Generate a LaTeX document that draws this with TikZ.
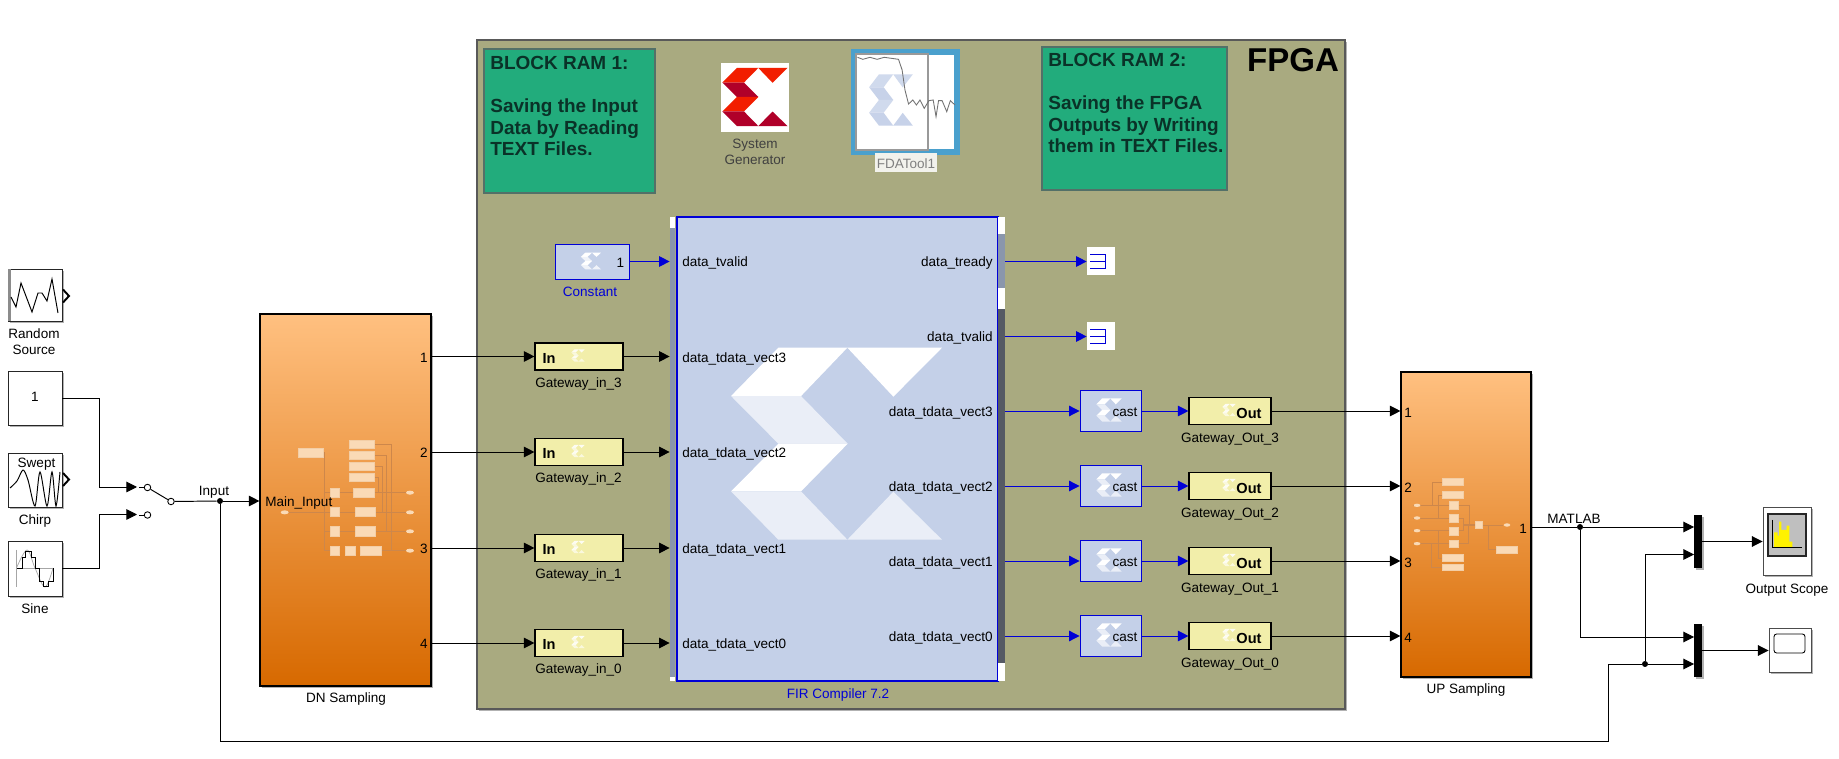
\documentclass[tikz,border=0pt]{standalone}
\usepackage{fontspec}
\setmainfont{Liberation Sans}
\usetikzlibrary{arrows.meta,shadows,positioning,calc}
\definecolor{fpgac}{RGB}{169,170,128}
\definecolor{ramc}{RGB}{34,172,124}
\definecolor{ramt}{RGB}{10,50,40}
\definecolor{firc}{RGB}{196,208,232}
\definecolor{xblue}{RGB}{0,0,215}
\definecolor{gwy}{RGB}{242,238,170}
\definecolor{orT}{RGB}{255,192,128}
\definecolor{orM}{RGB}{240,168,98}
\definecolor{orB}{RGB}{215,105,0}
\definecolor{tile}{RGB}{250,218,182}
\definecolor{tline}{RGB}{205,135,75}
\definecolor{barg}{RGB}{138,150,172}
\definecolor{bard}{RGB}{85,90,100}
\definecolor{fdab}{RGB}{74,160,205}

\begin{document}
\begin{tikzpicture}[x=0.02cm,y=-0.02cm,
  sh/.style={drop shadow={shadow xshift=1.2pt,shadow yshift=-1.2pt,opacity=.3,fill=black}},
  src/.style={rectangle,draw=black!85,fill=white,line width=.55pt,inner sep=0pt,sh,
              minimum width=54*.5692pt,minimum height=54*.5692pt},
  subsys/.style={rectangle,draw=black,line width=.65pt,inner sep=0pt,sh,
                 top color=orT,middle color=orM,bottom color=orB},
  ram/.style={rectangle,draw=ramt!70,fill=ramc,line width=.6pt,inner sep=0pt},
  gw/.style={rectangle,draw=black,fill=gwy,line width=.65pt,inner sep=0pt,
             minimum height=27*.5692pt},
  castb/.style={rectangle,draw=xblue,fill=firc,line width=.5pt,inner sep=0pt,
                minimum width=61*.5692pt,minimum height=41*.5692pt},
  term/.style={rectangle,fill=white,inner sep=0pt,
               minimum width=28*.5692pt,minimum height=28*.5692pt},
  mux/.style={rectangle,fill=black,inner sep=0pt,sh,minimum width=8*.5692pt},
  dot/.style={circle,fill=black,inner sep=0pt,minimum size=6*.5692pt},
  sw/.style={circle,draw=black,fill=white,line width=.5pt,inner sep=0pt,minimum size=6.5*.5692pt},
  lbl/.style={font=\fontsize{7.7}{9.1}\selectfont,inner sep=0pt,text height=5.5pt,text depth=0pt,yshift=-.5pt},
  capt/.style={font=\fontsize{7.7}{9.1}\selectfont,inner sep=0pt,align=center},
  ramtxt/.style={font=\fontsize{10.8}{12.35}\selectfont\bfseries,text=ramt,inner sep=0pt,
                 align=left,anchor=north west},
  wire/.style={black,line width=.55pt},
  arr/.style={-{Triangle[length=6pt,width=6pt]},black,line width=.55pt},
  barr/.style={-{Triangle[length=6pt,width=6pt]},xblue,line width=.55pt},
  icon/.style={black,line width=.55pt,line join=miter},
  tl/.style={fill=tile,draw=tile!85!tline,line width=.3pt},
  tw/.style={draw=tline,line width=.3pt},
  pics/xlogo/.style n args={2}{code={
    \fill[#1] (-175,-288) -- (32,-288) -- (-107,-143) -- (-317,-143) -- cycle;
    \fill[#2] (-317,-143) -- (-107,-143) -- (33,0) -- (-175,0) -- cycle;
    \fill[#1] (-175,0) -- (33,0) -- (-107,143) -- (-317,143) -- cycle;
    \fill[#2] (-317,143) -- (-107,143) -- (32,288) -- (-175,288) -- cycle;
    \fill[#2] (32,288) -- (170,144) -- (316,288) -- cycle;
    \fill[#1] (32,-288) -- (316,-288) -- (170,-141) -- cycle;
  }}]

  \useasboundingbox (0,0) rectangle (1839,759);

  % FPGA frame and the notes in it
  \node[rectangle,draw=black!65,fill=fpgac,line width=.7pt,sh,inner sep=0pt,
        minimum width=868*.5692pt,minimum height=669*.5692pt] (fpga) at (911,374.5) {};
  \node[font=\fontsize{18.8}{20}\selectfont\bfseries,inner sep=0pt] (fpgat) at (1293,60) {FPGA};
  \node[ram,minimum width=171*.5692pt,minimum height=144*.5692pt] (ram1) at (569.5,121) {};
  \node[ramtxt] (ram1t) at (490,55.5) {BLOCK RAM 1:\\[12.35pt]Saving the Input\\Data by Reading\\TEXT Files.};
  \node[ram,minimum width=185*.5692pt,minimum height=143*.5692pt] (ram2) at (1134.5,118.5) {};
  \node[ramtxt] (ram2t) at (1048,52.5) {BLOCK RAM 2:\\[12.35pt]Saving the FPGA\\Outputs by Writing\\them in TEXT Files.};

  % System Generator and filter tool
  \node[rectangle,fill=white,inner sep=0pt,minimum width=68*.5692pt,minimum height=69*.5692pt] (sysgen) at (755,97.5) {};
  \pic[xscale=.103,yscale=.101] (lg0) at (755,97) {xlogo={red!75!orange!95!black}{purple!75!red!85!black}};
  \node[capt,text=black!75] (sysgent) at (755,152) {System\\Generator};
  \node[rectangle,draw=fdab,fill=white,line width=3.4pt,inner sep=0pt,
        minimum width=103*.5692pt,minimum height=100*.5692pt] (fda) at (905.5,102) {};
  \pic[xscale=.069,yscale=.089] (lg1) at (891,100) {xlogo={firc!80}{firc!95}};
  \draw[black!40,line width=.6pt] (856,54) rectangle (928,150);
  \begin{scope}[shift={(470,30)},xscale=1/2.8,yscale=1/3]
    \draw[black!55,line width=.5pt] (1085,82) -- (1100,88) -- (1120,82) -- (1140,88) -- (1160,82) -- (1180,85) -- (1200,88)
      -- (1210,120) -- (1218,180) -- (1228,222) -- (1240,210) -- (1250,225) -- (1260,210) -- (1272,235) -- (1285,212)
      -- (1297,210) -- (1305,260) -- (1312,212) -- (1322,212) -- (1335,245) -- (1345,212) -- (1358,225);
  \end{scope}
  \node[rectangle,fill=white!85!fpgac,minimum width=62*.5692pt,minimum height=19*.5692pt,inner sep=0pt] (fdabg) at (906,162.5) {};
  \node[lbl,text=black!50] (fdat) at (906,162.5) {FDATool1};

  % FIR block
  \node[rectangle,draw=xblue,fill=firc,line width=.7pt,inner sep=0pt,
        minimum width=321*.5692pt,minimum height=464*.5692pt] (fir) at (837.5,449) {};
  \pic[scale=1/3] (lg2) at (836.7,443.7) {xlogo={white}{white!65!firc}};
  \fill[white] (670,217) rectangle (675,681);
  \node[rectangle,fill=barg,inner sep=0pt,minimum width=5*.5692pt,minimum height=449*.5692pt] (firbar) at (672.5,452.5) {};
  \fill[white] (998,217) rectangle (1005,681);
  \fill[barg] (998,234) rectangle (1005,288);
  \node[rectangle,fill=bard,inner sep=0pt,minimum width=7*.5692pt,minimum height=354*.5692pt] (firout) at (1001.5,486) {};
  \node[capt,text=xblue] (firt) at (838,695) {FIR Compiler 7.2};

  \node[lbl,anchor=west] (pi1) at (682,261) {data\_tvalid};
  \node[lbl,anchor=west] (pi2) at (682,357) {data\_tdata\_vect3};
  \node[lbl,anchor=west] (pi3) at (682,452) {data\_tdata\_vect2};
  \node[lbl,anchor=west] (pi4) at (682,548) {data\_tdata\_vect1};
  \node[lbl,anchor=west] (pi5) at (682,643) {data\_tdata\_vect0};
  \node[lbl,anchor=east] (po1) at (993,261) {data\_tready};
  \node[lbl,anchor=east] (po2) at (993,336) {data\_tvalid};
  \node[lbl,anchor=east] (po3) at (993,411) {data\_tdata\_vect3};
  \node[lbl,anchor=east] (po4) at (993,486) {data\_tdata\_vect2};
  \node[lbl,anchor=east] (po5) at (993,561) {data\_tdata\_vect1};
  \node[lbl,anchor=east] (po6) at (993,636) {data\_tdata\_vect0};

  % constant and gateways in
  \node[rectangle,draw=xblue,fill=firc,line width=.55pt,inner sep=0pt,
        minimum width=74*.5692pt,minimum height=35*.5692pt] (const) at (592,261.5) {};
  \pic[xscale=.032,yscale=.029] (lg3) at (591,261) {xlogo={white}{white!75!firc}};
  \node[lbl] (constv) at (620.5,261.5) {1};
  \node[capt,text=xblue] (constt) at (590,291.5) {Constant};

  \node[gw,minimum width=88*.5692pt] (gin3) at (579,356.5) {};
  \node[gw,minimum width=88*.5692pt] (gin2) at (579,452) {};
  \node[gw,minimum width=88*.5692pt] (gin1) at (579,548) {};
  \node[gw,minimum width=88*.5692pt] (gin0) at (579,643) {};
  \pic[scale=.021] (lg4) at (578,355.5) {xlogo={white!85!gwy}{white!60!gwy}};
  \pic[scale=.021] (lg5) at (578,451) {xlogo={white!85!gwy}{white!60!gwy}};
  \pic[scale=.021] (lg6) at (578,547) {xlogo={white!85!gwy}{white!60!gwy}};
  \pic[scale=.021] (lg7) at (578,642) {xlogo={white!85!gwy}{white!60!gwy}};
  \node[lbl,font=\fontsize{8.3}{9}\selectfont\bfseries] (gin3t) at (549,357.5) {In};
  \node[lbl,font=\fontsize{8.3}{9}\selectfont\bfseries] (gin2t) at (549,453) {In};
  \node[lbl,font=\fontsize{8.3}{9}\selectfont\bfseries] (gin1t) at (549,549) {In};
  \node[lbl,font=\fontsize{8.3}{9}\selectfont\bfseries] (gin0t) at (549,644) {In};
  \node[lbl] (gin3l) at (578.5,381.5) {Gateway\_in\_3};
  \node[lbl] (gin2l) at (578.5,477) {Gateway\_in\_2};
  \node[lbl] (gin1l) at (578.5,573) {Gateway\_in\_1};
  \node[lbl] (gin0l) at (578.5,668) {Gateway\_in\_0};

  % terminators, casts, gateways out
  \node[term] (tm1) at (1101,261.5) {};
  \node[term] (tm2) at (1101,336.5) {};
  \draw[xblue,line width=.5pt] (1090,254) -- (1105,254) -- (1105,268) -- (1090,268) (1090,261) -- (1105,261);
  \draw[xblue,line width=.5pt] (1090,329) -- (1105,329) -- (1105,343) -- (1090,343) (1090,336) -- (1105,336);

  \node[castb] (cast3) at (1110.5,411) {};
  \node[castb] (cast2) at (1110.5,486) {};
  \node[castb] (cast1) at (1110.5,561) {};
  \node[castb] (cast0) at (1110.5,636) {};
  \pic[scale=.04] (lg8) at (1109,410) {xlogo={white}{white!65!firc}};
  \pic[scale=.04] (lg9) at (1109,485) {xlogo={white}{white!65!firc}};
  \pic[scale=.04] (lg10) at (1109,560) {xlogo={white}{white!65!firc}};
  \pic[scale=.04] (lg11) at (1109,635) {xlogo={white}{white!65!firc}};
  \node[lbl] (cast3t) at (1125,411) {cast};
  \node[lbl] (cast2t) at (1125,486) {cast};
  \node[lbl] (cast1t) at (1125,561) {cast};
  \node[lbl] (cast0t) at (1125,636) {cast};

  \node[gw,minimum width=82*.5692pt] (gout3) at (1230,411) {};
  \node[gw,minimum width=82*.5692pt] (gout2) at (1230,486) {};
  \node[gw,minimum width=82*.5692pt] (gout1) at (1230,561) {};
  \node[gw,minimum width=82*.5692pt] (gout0) at (1230,636) {};
  \pic[scale=.021] (lg12) at (1229,410) {xlogo={white!85!gwy}{white!60!gwy}};
  \pic[scale=.021] (lg13) at (1229,485) {xlogo={white!85!gwy}{white!60!gwy}};
  \pic[scale=.021] (lg14) at (1229,560) {xlogo={white!85!gwy}{white!60!gwy}};
  \pic[scale=.021] (lg15) at (1229,635) {xlogo={white!85!gwy}{white!60!gwy}};
  \node[lbl,font=\fontsize{8.3}{9}\selectfont\bfseries] (gout3t) at (1249,413) {Out};
  \node[lbl,font=\fontsize{8.3}{9}\selectfont\bfseries] (gout2t) at (1249,488) {Out};
  \node[lbl,font=\fontsize{8.3}{9}\selectfont\bfseries] (gout1t) at (1249,563) {Out};
  \node[lbl,font=\fontsize{8.3}{9}\selectfont\bfseries] (gout0t) at (1249,638) {Out};
  \node[lbl] (gout3l) at (1230,437) {Gateway\_Out\_3};
  \node[lbl] (gout2l) at (1230,512) {Gateway\_Out\_2};
  \node[lbl] (gout1l) at (1230,587) {Gateway\_Out\_1};
  \node[lbl] (gout0l) at (1230,662) {Gateway\_Out\_0};

  % sources
  \node[src,minimum width=54*.5692pt,minimum height=52*.5692pt] (rnd) at (35,295) {};
  \fill[black!45] (8,269) rectangle (11,321);
  \draw[icon] (11,297) -- (16,307) -- (21,283) -- (32,312) -- (38,293) -- (42,293) -- (47,301) -- (52,279) -- (58,313);
  \draw[black,line width=1.1pt] (63,289.5) -- (69,296) -- (63,302.5);
  \node[capt] (rndt) at (34,342) {Random\\Source};
  \node[src,minimum width=54*.5692pt,minimum height=54*.5692pt] (cst) at (35,398) {};
  \node[lbl] (cstv) at (35,396) {1};
  \node[src,minimum width=54*.5692pt,minimum height=54*.5692pt] (chirp) at (35,480) {};
  \node[lbl] (chirpv) at (36.5,462) {Swept};
  \draw[icon] plot[smooth,tension=.5] coordinates {(10,488) (17,481) (23,470) (28,480) (35,506) (40,472) (47,506) (52,472) (56,506) (60,472)};
  \draw[black,line width=1.1pt] (63,473) -- (69,479.5) -- (63,486);
  \node[capt] (chirpt) at (35,521) {Chirp};
  \node[src,minimum width=54*.5692pt,minimum height=55*.5692pt] (sine) at (35,568.5) {};
  \draw[black!35,line width=.4pt] (16.5,550) -- (16.5,587) (16.5,568) -- (53,568);
  \draw[black!35,line width=.4pt] plot[smooth,tension=.6] coordinates {(16.5,568) (27,550) (35,568) (45,587) (53,568)};
  \draw[icon] (17,568) -- (22,568) -- (22,557) -- (25,557) -- (25,551) -- (31,551) -- (31,557) -- (35,557) -- (35,568) -- (39,568)
    -- (39,581) -- (43,581) -- (43,586) -- (48,586) -- (48,581) -- (53,581) -- (53,568);
  \node[capt] (sinet) at (35,609) {Sine};

  % manual switch
  \coordinate (swa) at (137,487);
  \coordinate (swb) at (137,514.5);
  \node[sw] (sw1) at (147.5,487.5) {};
  \node[sw] (sw2) at (147.5,515) {};
  \node[sw] (sw3) at (171,501.5) {};
  \draw[wire] (139,487.5) -- (sw1) (sw1) -- (sw3);
  \draw[wire] (139,515) -- (sw2);
  \draw[arr] (cst.east) -- ++(37,0) |- (swa);
  \draw[arr] (sine.east) -- ++(37,0) |- (swb);

  % sampling subsystems
  \node[subsys,minimum width=171*.5692pt,minimum height=372*.5692pt] (dn) at (345.5,500) {};
  \node[capt] (dnt) at (346,699.5) {DN Sampling};
  \node[subsys,minimum width=130*.5692pt,minimum height=305*.5692pt] (up) at (1466,524.5) {};
  \node[capt] (upt) at (1466,690) {UP Sampling};

  \begin{scope}[shift={(0,250)},scale=1/3]
    \draw[tw] (970,608) -- (973,608) -- (973,902) -- (991,902) (973,844) -- (991,844) (854,787) -- (991,787) (973,728) -- (991,728);
    \draw[tw] (1018,728) -- (1060,728) (1123,728) -- (1230,728) (1018,787) -- (1065,787) (1127,787) -- (1230,787);
    \draw[tw] (1018,844) -- (1065,844) (1127,844) -- (1230,844) (1143,902) -- (1230,902);
    \draw[tw] (1123,583) -- (1174,583) -- (1174,902) (1123,616) -- (1158,616) -- (1158,844);
    \draw[tw] (1123,650) -- (1147,650) -- (1147,787) (1123,683) -- (1135,683) -- (1135,728);
    \draw[tl] (895,595) rectangle (970,622);
    \draw[tl] (1048,571) rectangle (1123,595);
    \draw[tl] (1048,604) rectangle (1123,628);
    \draw[tl] (1048,638) rectangle (1123,661);
    \draw[tl] (1048,671) rectangle (1123,694);
    \draw[tl] (991,715) rectangle (1018,742);
    \draw[tl] (1060,715) rectangle (1123,742);
    \draw[tl] (991,773) rectangle (1018,800);
    \draw[tl] (1065,773) rectangle (1127,800);
    \draw[tl] (991,830) rectangle (1018,858);
    \draw[tl] (1065,830) rectangle (1127,858);
    \draw[tl] (991,888) rectangle (1018,915);
    \draw[tl] (1037,888) rectangle (1065,915);
    \draw[tl] (1082,888) rectangle (1143,915);
    \fill[tile] (854,787) ellipse (12 and 6);
    \fill[tile] (1230,728) ellipse (12 and 6);
    \fill[tile] (1230,787) ellipse (12 and 6);
    \fill[tile] (1230,844) ellipse (12 and 6);
    \fill[tile] (1230,902) ellipse (12 and 6);
  \end{scope}
  \begin{scope}[shift={(1380,440)},scale=1/3]
    \draw[tw] (100,196) -- (209,196) (100,234) -- (209,234) (100,272) -- (209,272) (100,311) -- (209,311);
    \draw[tw] (188,126) -- (157,126) -- (157,196) (188,165) -- (175,165) -- (175,234);
    \draw[tw] (188,354) -- (175,354) -- (175,272) (188,382) -- (155,382) -- (155,311);
    \draw[tw] (234,196) -- (268,196) -- (268,252) (234,235) -- (250,235) -- (250,255);
    \draw[tw] (234,272) -- (250,272) -- (250,258) (234,311) -- (265,311) -- (265,258);
    \draw[tw,line width=1pt] (250,255) -- (286,255);
    \draw[tw] (307,255) -- (370,255) (325,255) -- (325,329) -- (350,329);
    \draw[tl] (188,116) rectangle (250,136);
    \draw[tl] (188,155) rectangle (250,175);
    \draw[tl] (209,185) rectangle (234,208);
    \draw[tl] (209,224) rectangle (234,247);
    \draw[tl] (209,263) rectangle (234,285);
    \draw[tl] (209,300) rectangle (234,323);
    \draw[tl] (286,244) rectangle (307,265);
    \draw[tl] (188,344) rectangle (250,364);
    \draw[tl] (188,372) rectangle (250,392);
    \draw[tl] (350,319) rectangle (412,340);
    \fill[tile] (111,196) ellipse (10 and 5);
    \fill[tile] (111,234) ellipse (10 and 5);
    \fill[tile] (111,272) ellipse (10 and 5);
    \fill[tile] (111,311) ellipse (10 and 5);
    \fill[tile] (381,255) ellipse (10 and 5);
  \end{scope}

  \node[lbl,anchor=west] (dnin) at (265,501) {Main\_Input};
  \node[lbl] (dn1t) at (424,357) {1};
  \node[lbl] (dn2t) at (424,452) {2};
  \node[lbl] (dn3t) at (424,548) {3};
  \node[lbl] (dn4t) at (424,643) {4};
  \node[lbl] (up1t) at (1408,412) {1};
  \node[lbl] (up2t) at (1408,487) {2};
  \node[lbl] (up3t) at (1408,562) {3};
  \node[lbl] (up4t) at (1408,637) {4};
  \node[lbl] (upo) at (1523,528) {1};

  % muxes and scopes
  \node[mux,minimum height=53*.5692pt] (mux1) at (1698,541.5) {};
  \node[mux,minimum height=53*.5692pt] (mux2) at (1698,650.5) {};
  \node[src,draw=black!70,minimum width=48*.5692pt,minimum height=68*.5692pt] (scope1) at (1787,541) {};
  \draw[black!85,fill=black!25,line width=1.5pt] (1768,514) rectangle (1806,556);
  \begin{scope}[shift={(1740,495)},scale=1/3]
    \fill[yellow] (102,156) -- (102,112) -- (113,112) -- (113,122) -- (117,122) -- (117,80) -- (124,80) -- (124,105)
      -- (140,105) -- (140,92) -- (148,92) -- (148,140) -- (157,140) -- (157,156) -- cycle;
    \draw[black,line width=.6pt] (97,75) -- (97,158) -- (185,158);
  \end{scope}
  \node[capt] (scope1t) at (1787,590) {Output Scope};
  \node[src,draw=black!70,minimum width=42*.5692pt,minimum height=44*.5692pt] (scope2) at (1790,650) {};
  \draw[black,line width=.5pt,rounded corners=1.5pt] (1774,634) rectangle (1805,653);

  % signal lines
  \node[dot] (j1) at (220,501) {};
  \node[dot] (j2) at (1580,527) {};
  \node[dot] (j3) at (1645,664) {};
  \coordinate (bot) at (1608,741.5);
  \coordinate (m1a) at (1694,527);
  \coordinate (m1b) at (1694,554.5);
  \coordinate (m2a) at (1694,637);
  \coordinate (m2b) at (1694,664);
  \node[lbl] (inl) at (214,490) {Input};
  \node[lbl] (matl) at (1574,518) {MATLAB};

  \draw[wire] (sw3) -- (j1);
  \draw[arr] (j1) -- (j1 -| dn.west);
  \draw[wire] (j1) |- (bot) |- (j3);
  \draw[arr] (j3) -- (m2b);
  \draw[arr] (j3) |- (m1b);

  \draw[arr] (dn.east |- gin3) -- (gin3.west);
  \draw[arr] (dn.east |- gin2) -- (gin2.west);
  \draw[arr] (dn.east |- gin1) -- (gin1.west);
  \draw[arr] (dn.east |- gin0) -- (gin0.west);
  \draw[arr] (gin3.east) -- (gin3.east -| firbar.west);
  \draw[arr] (gin2.east) -- (gin2.east -| firbar.west);
  \draw[arr] (gin1.east) -- (gin1.east -| firbar.west);
  \draw[arr] (gin0.east) -- (gin0.east -| firbar.west);
  \draw[barr] (const.east) -- (const.east -| firbar.west);

  \draw[barr] (firout.east |- tm1) -- (tm1.west);
  \draw[barr] (firout.east |- tm2) -- (tm2.west);
  \draw[barr] (firout.east |- cast3) -- (cast3.west);
  \draw[barr] (firout.east |- cast2) -- (cast2.west);
  \draw[barr] (firout.east |- cast1) -- (cast1.west);
  \draw[barr] (firout.east |- cast0) -- (cast0.west);
  \draw[barr] (cast3.east) -- (gout3.west);
  \draw[barr] (cast2.east) -- (gout2.west);
  \draw[barr] (cast1.east) -- (gout1.west);
  \draw[barr] (cast0.east) -- (gout0.west);
  \draw[arr] (gout3.east) -- (gout3.east -| up.west);
  \draw[arr] (gout2.east) -- (gout2.east -| up.west);
  \draw[arr] (gout1.east) -- (gout1.east -| up.west);
  \draw[arr] (gout0.east) -- (gout0.east -| up.west);

  \draw[wire] (up.east |- j2) -- (j2);
  \draw[arr] (j2) -- (m1a);
  \draw[arr] (j2) |- (m2a);
  \draw[arr] (mux1.east) -- (mux1.east -| scope1.west);
  \draw[arr] (mux2.east) -- (mux2.east -| scope2.west);
\end{tikzpicture}
\end{document}
